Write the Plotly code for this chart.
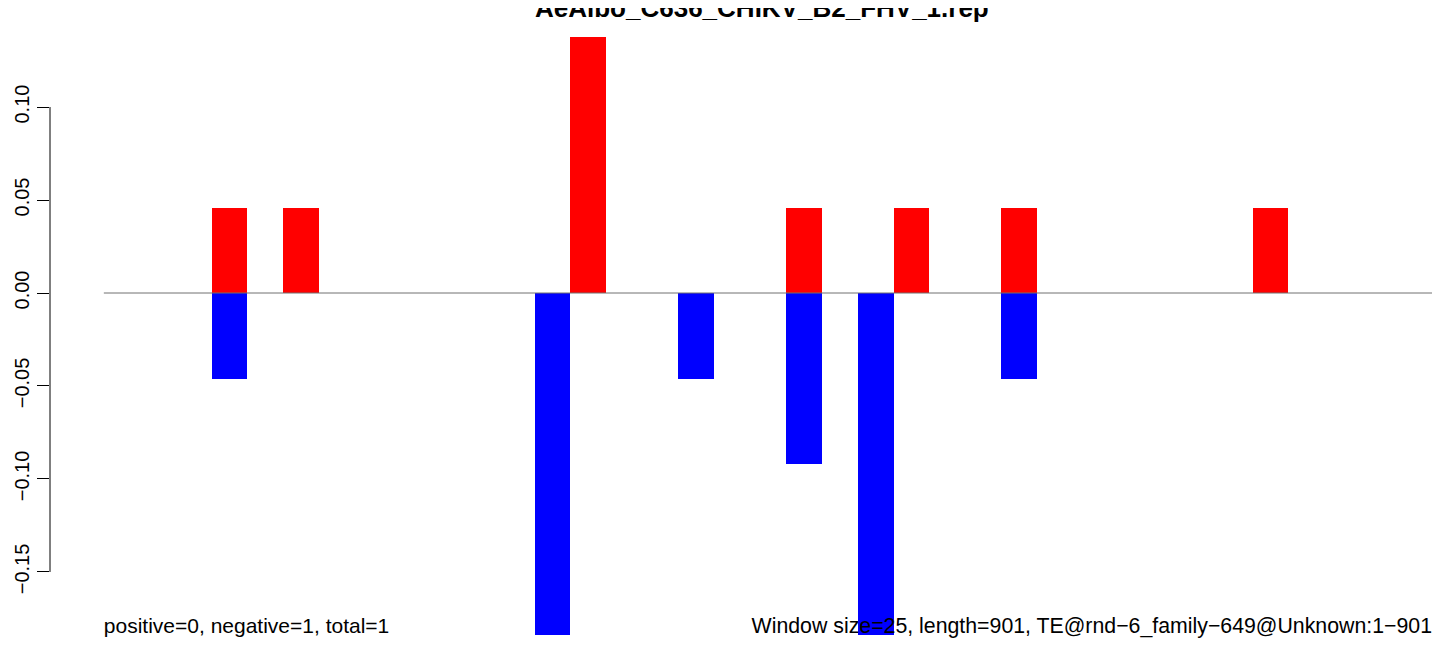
import plotly.graph_objects as go

# ---- data ----
n_windows = 37
window_index = list(range(n_windows))
pos_slots = [3, 5, 13, 19, 22, 25, 32]
pos_vals = [0.0457, 0.0457, 0.1376, 0.0457, 0.0457, 0.0457, 0.0457]
neg_slots = [3, 12, 16, 19, 21, 25]
neg_vals = [-0.0462, -0.184, -0.0462, -0.0919, -0.184, -0.0462]

title_text = "AeAlbo_C636_CHIKV_B2_FHV_1.rep"
left_note = "positive=0, negative=1, total=1"
right_note = "Window size=25, length=901, TE@rnd\u22126_family\u2212649@Unknown:1\u2212901"
y_ticks = [-0.15, -0.10, -0.05, 0.00, 0.05, 0.10]
y_tick_labels = ["\u22120.15", "\u22120.10", "\u22120.05", "0.00", "0.05", "0.10"]

positive = [0.0] * n_windows
for s, v in zip(pos_slots, pos_vals):
    positive[s] = v
negative = [0.0] * n_windows
for s, v in zip(neg_slots, neg_vals):
    negative[s] = v

x_centers = [i + 0.5 for i in window_index]

FONT = "Liberation Sans, Arial, Helvetica, sans-serif"

fig = go.Figure()

# footer texts (drawn first so bars sit on top, as in the reference)
fig.add_trace(go.Scatter(
    x=[0], y=[-0.1798], mode="text", text=[left_note],
    textposition="middle right", textfont=dict(size=21, color="black", family=FONT),
    cliponaxis=False, showlegend=False, hoverinfo="skip"))
fig.add_trace(go.Scatter(
    x=[n_windows], y=[-0.1798], mode="text", text=[right_note],
    textposition="middle left", textfont=dict(size=21.3, color="black", family=FONT),
    cliponaxis=False, showlegend=False, hoverinfo="skip"))

fig.add_trace(go.Bar(x=x_centers, y=positive, width=1.0,
                     marker=dict(color="#ff0000", line=dict(width=0)),
                     showlegend=False))
fig.add_trace(go.Bar(x=x_centers, y=negative, width=1.0,
                     marker=dict(color="#0000ff", line=dict(width=0)),
                     showlegend=False))

# zero baseline
fig.add_shape(type="line", xref="x", yref="y", x0=0, x1=n_windows, y0=0, y1=0,
              line=dict(color="#707070", width=1))
# R-style y axis line spanning only the tick range
fig.add_shape(type="line", xref="paper", yref="y", x0=0, x1=0,
              y0=min(y_ticks), y1=max(y_ticks),
              line=dict(color="black", width=1))

# title (partly cut off at top, as in the reference)
fig.add_annotation(text="<b>" + title_text + "</b>", xref="paper", yref="paper",
                   x=(762 - 50) / 1382, y=1 + 12 / 615, xanchor="center", yanchor="middle",
                   showarrow=False, font=dict(size=26, family=FONT, color="black"))

# page is rendered with an 8px body offset; compensate in size/margins
fig.update_layout(
    width=1436, height=648,
    margin=dict(l=42, r=12, t=12, b=21),
    paper_bgcolor="white", plot_bgcolor="white",
    barmode="overlay", bargap=0,
    font=dict(family=FONT, size=21, color="black"),
    xaxis=dict(range=[-1.5, n_windows], showgrid=False, zeroline=False,
               showticklabels=False, ticks="", showline=False, automargin=False),
    yaxis=dict(range=[-0.1839, 0.1468], showgrid=False, zeroline=False,
               showline=False, tickmode="array", tickvals=y_ticks,
               ticktext=y_tick_labels, ticks="outside", ticklen=12,
               tickcolor="black", tickwidth=1, tickangle=-90,
               ticklabelstandoff=0, automargin=False,
               tickfont=dict(size=20, family=FONT, color="black")),
)

fig.write_html("out.html")
